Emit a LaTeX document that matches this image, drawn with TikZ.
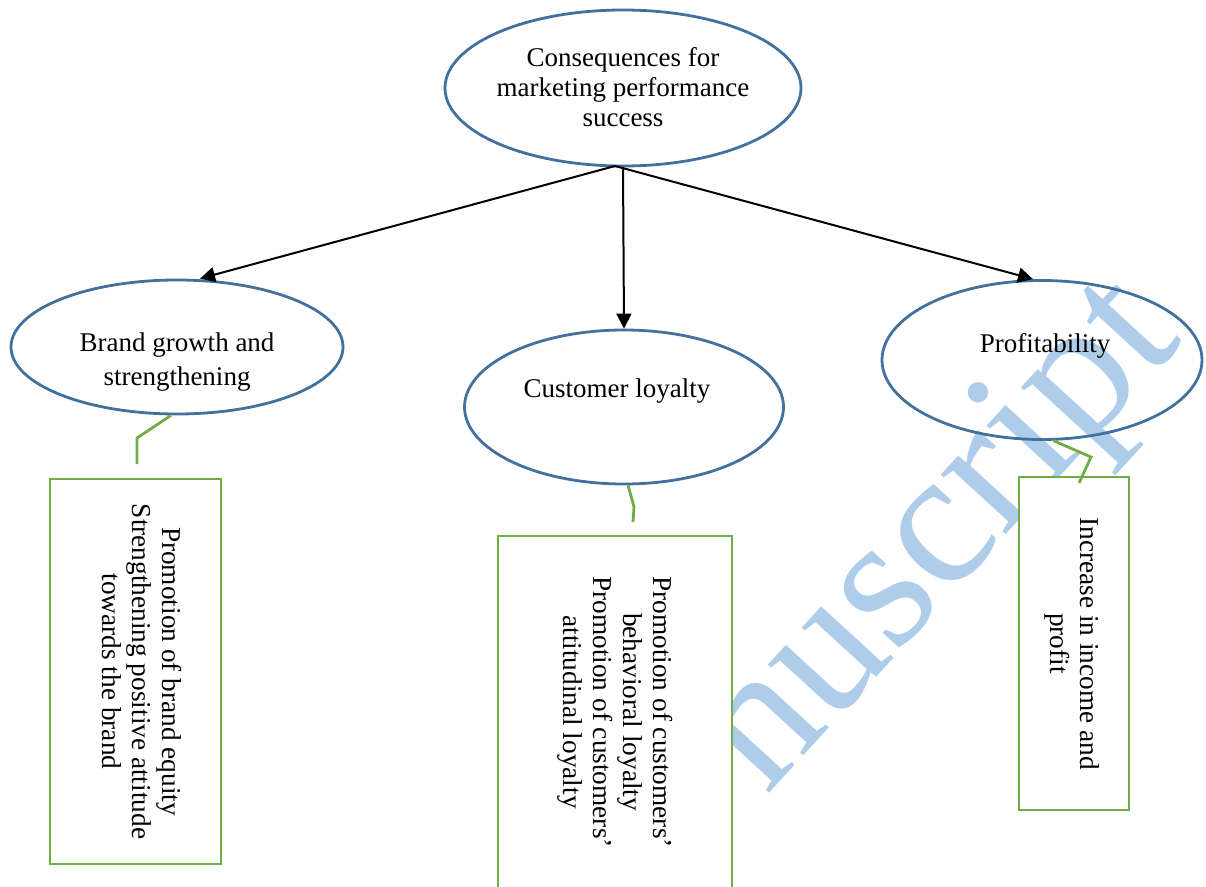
\documentclass[tikz,border=0pt]{standalone}
\usepackage{fontspec}
\setmainfont{Liberation Serif}
\usetikzlibrary{shapes.geometric,arrows.meta}

\definecolor{ovalblue}{RGB}{65,113,156}
\definecolor{boxgreen}{RGB}{112,173,71}
\definecolor{markblue}{RGB}{174,205,235}

\tikzset{
  oval/.style={ellipse, draw=ovalblue, line width=2.8pt, inner sep=0pt},
  ovaltext/.style={font=\fontsize{27}{30}\selectfont, align=center, inner sep=0pt},
  sidebox/.style={draw=boxgreen, fill=white, line width=2.8pt, rectangle},
  sidetext/.style={font=\fontsize{27.3}{30}\selectfont, align=center, rotate=-90, inner sep=0pt},
  link/.style={draw=boxgreen, line width=2.8pt},
  flow/.style={draw=black, line width=2pt, -{Triangle[length=15pt,width=15pt]}},
  watermark/.style={font=\fontsize{192}{192}\selectfont, text=markblue, rotate=47.5, inner sep=0pt, anchor=base west}
}

\begin{document}
\begin{tikzpicture}[x=1pt,y=-1pt]
  \useasboundingbox (0,0) rectangle (1206,886);
  \clip (0,0) rectangle (1206,886);

  % watermark behind everything
  \node[watermark] (wm) at (766,797) {nuscript};

  % ovals
  \node[oval, minimum width=356pt, minimum height=156pt] (top) at (623,88) {};
  \node[oval, minimum width=332pt, minimum height=134pt] (brand) at (177,347) {};
  \node[oval, minimum width=319pt, minimum height=154pt] (loyal) at (624,407) {};
  \node[oval, minimum width=320pt, minimum height=159pt] (profit) at (1042,360) {};

  \node[ovaltext] (toptxt) at (623,87) {Consequences for\\marketing performance\\success};
  \node[ovaltext, font=\fontsize{27}{34}\selectfont] (brandtxt) at (177,362) {Brand growth and\\strengthening};
  \node[ovaltext] (loyaltxt) at (617,391) {Customer loyalty};
  \node[ovaltext] (profittxt) at (1045,346) {Profitability};

  % boxes
  \draw[sidebox] (50,479) rectangle (221,864);
  \draw[sidebox] (498,536) rectangle (732,900);
  \draw[sidebox] (1019,477) rectangle (1129,810);

  \node[sidetext] (boxAtxt) at (142,671.5) {Promotion of brand equity\\Strengthening positive attitude\\towards the brand};
  \node[sidetext] (boxBtxt) at (615,712) {Promotion of customers'\\behavioral loyalty\\Promotion of customers'\\attitudinal loyalty};
  \node[sidetext] (boxCtxt) at (1072.5,643.5) {Increase in income and\\profit};

  % arrows from the top oval
  \coordinate (fork) at (615,166);
  \draw[flow] (fork) -- (brand.north -| 200,0);
  \draw[flow] (top.south) -- (loyal.north);
  \draw[flow] (fork) -- (profit.north -| 1033,0);

  % links from ovals down to the boxes
  \coordinate (endA) at (137,464);
  \draw[link] (brand.-95) -- (137,438) -- (endA);
  \coordinate (endB) at (633,522);
  \draw[link] (loyal.-87) -- (634,507) -- (endB);
  \coordinate (endC) at (1079,483);
  \draw[link] (profit.-82) -- (1091,457) -- (endC);
\end{tikzpicture}
\end{document}
